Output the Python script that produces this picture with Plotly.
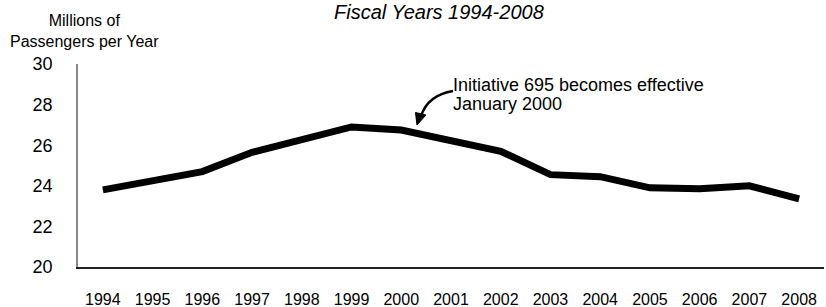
import plotly.graph_objects as go

years = ["1994", "1995", "1996", "1997", "1998", "1999", "2000", "2001",
         "2002", "2003", "2004", "2005", "2006", "2007", "2008"]
passengers = [23.8, 24.25, 24.7, 25.65, 26.25, 26.9, 26.75, 26.2,
              25.7, 24.55, 24.45, 23.9, 23.85, 24.0, 23.35]
y_ticks = [20, 22, 24, 26, 28, 30]

W, H = 826, 307
L, R, T, B = 78, 2, 64, 40
pw, ph = W - L - R, H - T - B

def px(x):
    return (x - L) / pw

def py(y):
    return (H - B - y) / ph

fig = go.Figure()
fig.add_trace(go.Scatter(
    x=years, y=passengers, mode="lines",
    line=dict(color="black", width=7), hoverinfo="skip"))

curve = "M {:.4f},{:.4f} Q {:.4f},{:.4f} {:.4f},{:.4f}".format(
    px(453), py(91), px(428), py(95), px(421), py(116))
head = "M {:.4f},{:.4f} L {:.4f},{:.4f} L {:.4f},{:.4f} Z".format(
    px(417), py(125), px(426), py(115), px(415.5), py(112.5))

fig.update_layout(
    width=W, height=H,
    margin=dict(l=L, r=R, t=T, b=B, autoexpand=False),
    paper_bgcolor="white", plot_bgcolor="white",
    showlegend=False,
    font=dict(family="Liberation Sans, Arial, sans-serif", color="black"),
    xaxis=dict(
        type="category", range=[-0.5, 14.5],
        showline=True, linecolor="#222", linewidth=1.5,
        showgrid=False, ticks="", tickfont=dict(size=16),
        ticklabelstandoff=17, zeroline=False, fixedrange=True,
        automargin=False),
    yaxis=dict(
        range=[20, 30], tickvals=y_ticks,
        showline=True, linecolor="#888", linewidth=1.5,
        showgrid=False, ticks="", tickfont=dict(size=18),
        ticklabelstandoff=20, zeroline=False, fixedrange=True,
        automargin=False),
    shapes=[
        dict(type="path", xref="paper", yref="paper", path=curve,
             line=dict(color="black", width=2.5)),
        dict(type="path", xref="paper", yref="paper", path=head,
             fillcolor="black", line=dict(color="black", width=1)),
    ],
    annotations=[
        dict(text="<i>Fiscal Years 1994-2008</i>", xref="paper", yref="paper",
             x=px(439), y=py(0), xanchor="center", yanchor="top",
             showarrow=False, font=dict(size=20), borderpad=0),
        dict(text="Millions of<br>Passengers per Year", xref="paper", yref="paper",
             x=px(84), y=py(31), xanchor="center", yanchor="middle",
             showarrow=False, align="center",
             font=dict(size=16)),
        dict(text="Initiative 695 becomes effective",
             xref="paper", yref="paper",
             x=px(451), y=py(85), xanchor="left", yanchor="middle",
             showarrow=False, align="left",
             font=dict(size=18)),
        dict(text="January 2000",
             xref="paper", yref="paper",
             x=px(451), y=py(104), xanchor="left", yanchor="middle",
             showarrow=False, align="left",
             font=dict(size=18)),
    ],
)

fig.write_html("out.html", post_script="document.body.style.margin='0';",
               config={"displayModeBar": False})
